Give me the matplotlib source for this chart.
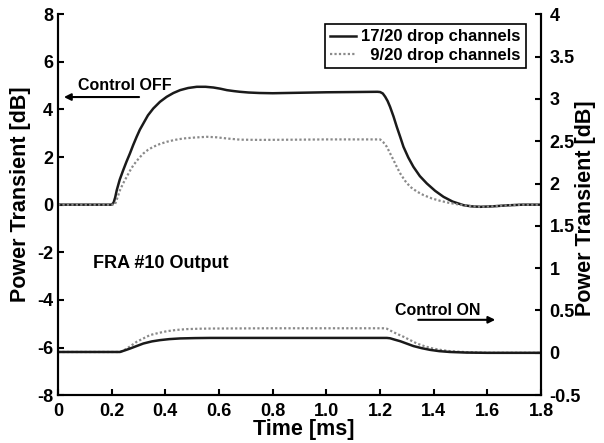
import numpy as np
import matplotlib.pyplot as plt

plt.rcParams['font.family'] = ['Liberation Sans', 'DejaVu Sans']
plt.rcParams['font.weight'] = 'bold'
plt.rcParams['axes.unicode_minus'] = False

# Control OFF curves (left axis, dB)
t_off_17 = [0, 0.2, 0.207, 0.213, 0.219, 0.23, 0.243, 0.255, 0.268, 0.28, 0.293, 0.305,
            0.318, 0.335, 0.355, 0.38, 0.405, 0.43, 0.455, 0.485, 0.517, 0.55, 0.579,
            0.605, 0.629, 0.655, 0.678, 0.71, 0.75, 0.8, 0.9, 1.0, 1.1, 1.19, 1.2, 1.21,
            1.219, 1.228, 1.237, 1.25, 1.262, 1.275, 1.287, 1.305, 1.324, 1.348, 1.374,
            1.405, 1.436, 1.47, 1.51, 1.54, 1.573, 1.62, 1.672, 1.73, 1.8]
p_off_17 = [0, 0, 0.08, 0.3, 0.61, 1.05, 1.45, 1.8, 2.15, 2.5, 2.85, 3.15,
            3.41, 3.75, 4.04, 4.32, 4.53, 4.69, 4.81, 4.9, 4.95, 4.95, 4.92,
            4.87, 4.81, 4.77, 4.74, 4.71, 4.69, 4.68, 4.7, 4.72, 4.73, 4.74, 4.73, 4.67,
            4.53, 4.35, 4.11, 3.7, 3.27, 2.84, 2.43, 1.98, 1.59, 1.2, 0.89,
            0.58, 0.33, 0.13, -0.02, -0.07, -0.09, -0.07, -0.03, 0, 0]

t_off_9 = [0, 0.212, 0.22, 0.231, 0.243, 0.256, 0.268, 0.281, 0.3, 0.318, 0.335, 0.355,
           0.38, 0.405, 0.435, 0.467, 0.51, 0.554, 0.59, 0.629, 0.678, 0.75, 0.9, 1.0,
           1.1, 1.2, 1.212, 1.225, 1.237, 1.25, 1.262, 1.275, 1.293, 1.312, 1.337, 1.362,
           1.393, 1.424, 1.455, 1.486, 1.51, 1.54, 1.573, 1.62, 1.672, 1.73, 1.8]
p_off_9 = [0, 0, 0.25, 0.61, 0.9, 1.17, 1.42, 1.66, 1.93, 2.15, 2.3, 2.43,
           2.55, 2.64, 2.72, 2.78, 2.82, 2.85, 2.83, 2.78, 2.73, 2.72, 2.73, 2.74,
           2.74, 2.74, 2.62, 2.43, 2.16, 1.87, 1.59, 1.31, 1.0, 0.75, 0.55, 0.40,
           0.26, 0.16, 0.08, 0.02, -0.02, -0.06, -0.09, -0.07, -0.03, 0, 0]

# Control ON curves (right axis, dB)
t_on_17 = [0, 0.231, 0.25, 0.268, 0.293, 0.318, 0.35, 0.38, 0.415, 0.455, 0.51, 0.567,
           0.8, 1.0, 1.225, 1.237, 1.255, 1.275, 1.3, 1.324, 1.355, 1.386, 1.42, 1.46,
           1.52, 1.6, 1.8]
p_on_17 = [0.01, 0.01, 0.03, 0.05, 0.08, 0.11, 0.135, 0.15, 0.162, 0.17, 0.174, 0.176,
           0.176, 0.176, 0.176, 0.172, 0.155, 0.137, 0.108, 0.08, 0.055, 0.035, 0.02, 0.01,
           0.003, 0.0, 0.0]

t_on_9 = [0, 0.231, 0.243, 0.256, 0.275, 0.293, 0.318, 0.343, 0.375, 0.405, 0.44, 0.479,
          0.53, 0.579, 0.8, 1.0, 1.212, 1.225, 1.24, 1.262, 1.287, 1.312, 1.337, 1.368,
          1.398, 1.43, 1.46, 1.52, 1.6, 1.8]
p_on_9 = [0.01, 0.01, 0.025, 0.05, 0.09, 0.13, 0.17, 0.21, 0.235, 0.255, 0.27, 0.28,
          0.285, 0.287, 0.29, 0.29, 0.29, 0.285, 0.26, 0.225, 0.19, 0.15, 0.11, 0.075,
          0.05, 0.032, 0.02, 0.008, 0.0, 0.0]

xticks = [0, 0.2, 0.4, 0.6, 0.8, 1.0, 1.2, 1.4, 1.6, 1.8]
xticklabels = ['0', '0.2', '0.4', '0.6', '0.8', '1.0', '1.2', '1.4', '1.6', '1.8']
lticks = [-8, -6, -4, -2, 0, 2, 4, 6, 8]
rticks = [-0.5, 0, 0.5, 1, 1.5, 2, 2.5, 3, 3.5, 4]

fig = plt.figure(figsize=(6.04, 4.43), dpi=100)
ax = fig.add_axes([0.096, 0.108, 0.8, 0.86])
ax2 = ax.twinx()

dot = dict(color='#8a8a8a', lw=1.6, linestyle=(0, (1, 1)))
sol = dict(color='#1a1a1a', lw=1.8)

l1, = ax.plot(t_off_17, p_off_17, **sol)
l2, = ax.plot(t_off_9, p_off_9, **dot)
ax2.plot(t_on_9, p_on_9, **dot)
ax2.plot(t_on_17, p_on_17, **sol)

ax.set_xlim(0, 1.8)
ax.set_ylim(-8, 8)
ax2.set_ylim(-0.5, 4)
ax.set_xticks(xticks)
ax.set_xticklabels(xticklabels)
ax.set_yticks(lticks)
ax.set_yticklabels([str(v) for v in lticks])
ax2.set_yticks(rticks)
ax2.set_yticklabels(['%g' % v for v in rticks])

for a in (ax, ax2):
    a.spines['top'].set_visible(False)
    for s in ('left', 'right', 'bottom'):
        a.spines[s].set_linewidth(1.5)
    a.tick_params(direction='in', length=4, width=1.5, labelsize=13)
    for lbl in a.get_xticklabels() + a.get_yticklabels():
        lbl.set_fontweight('bold')
ax.tick_params(axis='x', pad=6)
ax2.tick_params(axis='y', pad=6)

fig.text(304 / 604, 1 - 430 / 443, 'Time [ms]', fontsize=15.5, fontweight='bold',
         ha='center', va='center')
fig.text(21 / 604, 1 - 194 / 443, 'Power Transient [dB]', fontsize=15.5,
         fontweight='bold', rotation=90, ha='center', va='center')
fig.text(586 / 604, 1 - 208 / 443, 'Power Transient [dB]', fontsize=15.5,
         fontweight='bold', rotation=90, ha='center', va='center')

ax.text(0.25, 5.02, 'Control OFF', fontsize=11.5, fontweight='bold', ha='center', va='center')
ax.annotate('', xy=(0.022, 4.52), xytext=(0.302, 4.52),
            arrowprops=dict(arrowstyle='-|>', lw=1.5, color='k', mutation_scale=10,
                            shrinkA=0, shrinkB=0))
ax.text(0.382, -2.46, 'FRA #10 Output', fontsize=13, fontweight='bold', ha='center', va='center')
ax2.text(1.416, 0.5, 'Control ON', fontsize=11.5, fontweight='bold', ha='center', va='center')
ax2.annotate('', xy=(1.629, 0.39), xytext=(1.342, 0.39),
             arrowprops=dict(arrowstyle='-|>', lw=1.5, color='k', mutation_scale=10,
                             shrinkA=0, shrinkB=0))

leg = ax2.legend([l1, l2], ['17/20 drop channels', '  9/20 drop channels'],
                 loc='upper right', bbox_to_anchor=(0.985, 0.995),
                 prop=dict(size=12, weight='bold'),
                 fancybox=False, edgecolor='k', framealpha=1, handlelength=1.6,
                 handletextpad=0.3, borderpad=0.3, labelspacing=0.2)
leg.get_frame().set_linewidth(1.2)

fig.savefig('out.png', dpi=100)
